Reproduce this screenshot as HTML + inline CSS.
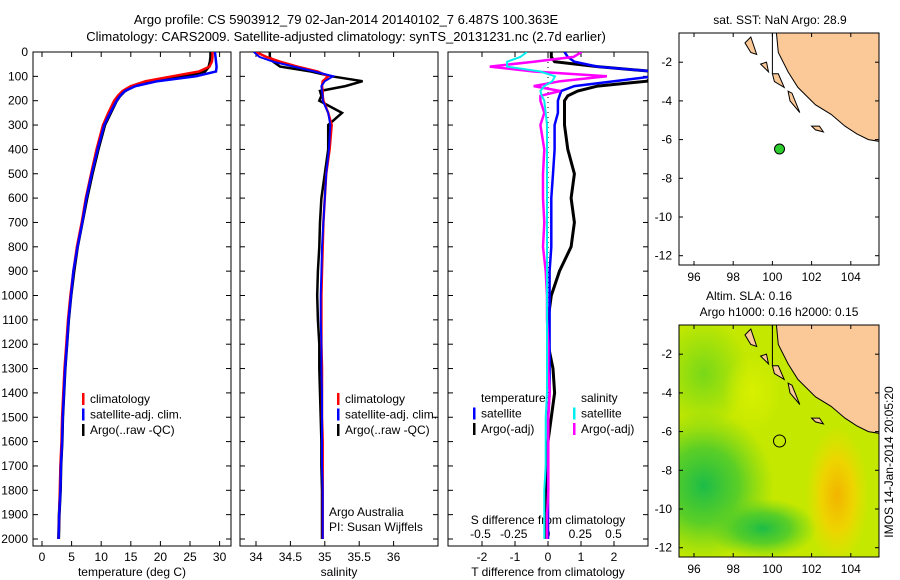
<!DOCTYPE html>
<html><head><meta charset="utf-8"><style>
body{margin:0;background:#fff;}
svg{display:block;font-family:"Liberation Sans",sans-serif;font-size:12px;}
</style></head><body>
<svg id="c" width="900" height="580" xmlns="http://www.w3.org/2000/svg">
<text x="346" y="24" text-anchor="middle" font-size="13">Argo profile: CS 5903912_79 02-Jan-2014 20140102_7 6.487S 100.363E</text>
<text x="346" y="41" text-anchor="middle" font-size="13">Climatology: CARS2009. Satellite-adjusted climatology: synTS_20131231.nc (2.7d earlier)</text>
<defs>
<clipPath id="cp1"><rect x="33" y="52" width="198" height="494"/></clipPath>
<clipPath id="cp2"><rect x="240" y="52" width="198" height="494"/></clipPath>
<clipPath id="cp3"><rect x="448" y="52" width="200" height="494"/></clipPath>
<clipPath id="cm1"><rect x="679" y="33" width="200" height="232"/></clipPath>
<clipPath id="cm2"><rect x="679" y="325" width="200" height="232"/></clipPath>
<radialGradient id="g1" cx="0.5" cy="0.5" r="0.5"><stop offset="0" stop-color="#1cbc48"/><stop offset="0.5" stop-color="#40c830" stop-opacity="0.8"/><stop offset="1" stop-color="#60d020" stop-opacity="0"/></radialGradient>
<radialGradient id="g2" cx="0.5" cy="0.5" r="0.5"><stop offset="0" stop-color="#f2b400"/><stop offset="0.5" stop-color="#eed400"/><stop offset="1" stop-color="#e8e000" stop-opacity="0"/></radialGradient>
<radialGradient id="g3" cx="0.5" cy="0.5" r="0.5"><stop offset="0" stop-color="#d8f000"/><stop offset="1" stop-color="#d8f000" stop-opacity="0"/></radialGradient>
<radialGradient id="g4" cx="0.5" cy="0.5" r="0.5"><stop offset="0" stop-color="#78d818"/><stop offset="1" stop-color="#78d818" stop-opacity="0"/></radialGradient>
</defs>
<g id="p1"></g>
<g id="p2"></g>
<g id="p3"></g>
<g id="m1"></g>
<g id="m2"></g>
</svg>
<script>
const depths=[0,20,40,60,80,100,120,140,160,180,200,250,300,400,500,600,700,800,900,1000,1100,1200,1300,1400,1500,1600,1700,1800,1900,2000];
const tempArgo=[28.5,28.5,28.4,28.2,27.5,24,19,15.5,14,13.2,12.6,11.6,10.6,9.5,8.5,7.6,6.8,6,5.4,4.9,4.5,4.2,3.9,3.7,3.5,3.4,3.2,3.1,2.9,2.8];
const tempClim=[28.8,28.8,28.7,28.3,26.5,22,17.5,15,13.6,12.8,12.2,11.2,10.3,9.2,8.3,7.4,6.7,5.9,5.3,4.8,4.4,4.1,3.8,3.6,3.4,3.3,3.1,3,2.9,2.8];
const tempSat=[29.2,29.3,29.4,29.5,29.4,26,19.5,15.8,14,13.2,12.6,11.5,10.5,9.4,8.4,7.5,6.8,6,5.3,4.9,4.5,4.2,3.9,3.7,3.5,3.4,3.2,3.1,2.9,2.8];
const salArgo=[34.2,34.2,34.25,34.35,34.8,35.1,35.55,35.3,34.93,34.95,34.92,35.25,35.05,35.05,35.0,34.95,34.93,34.92,34.9,34.89,34.9,34.92,34.92,34.93,34.94,34.95,34.95,34.96,34.96,34.96];
const salClim=[34.0,34.15,34.35,34.6,34.9,35.05,34.97,34.96,34.97,34.97,34.98,35.05,35.1,35.07,35.02,35.0,34.98,34.97,34.96,34.95,34.95,34.95,34.96,34.96,34.96,34.97,34.97,34.97,34.97,34.97];
const salSat=[33.97,34.05,34.25,34.55,34.85,35.12,35.0,34.95,34.96,34.97,34.97,35.05,35.08,35.06,35.02,35.0,34.98,34.96,34.95,34.94,34.94,34.95,34.95,34.96,34.96,34.96,34.96,34.97,34.97,34.97];
const dTsat=[0.5,0.6,0.8,1.5,3.2,3.2,2.0,0.8,0.4,0.35,0.3,0.3,0.2,0.2,0.15,0.1,0.1,0.1,0.05,0.05,0.05,0.05,0.05,0.05,0,0,0,0,0,0];
const dTargo=[0.1,0.1,0.2,1.5,3.2,3.2,3.0,1.5,0.9,0.6,0.5,0.5,0.5,0.6,0.8,0.7,0.8,0.7,0.35,0.1,0,0,0.15,0.2,0.1,0,-0.05,-0.05,-0.05,-0.05];
const dSsat=[-0.15,-0.2,-0.3,-0.3,-0.05,0.06,0.04,-0.02,-0.05,-0.04,-0.02,-0.01,0,0,0,0,0,0,0,0,0,0,0,0,-0.01,-0.01,-0.01,-0.02,-0.02,-0.02];
const dSargo=[0.26,0.2,-0.1,-0.43,-0.1,0.45,0.1,-0.1,0.1,-0.05,-0.05,-0.02,-0.05,-0.02,-0.03,-0.03,-0.02,-0.03,-0.01,0,0,0.01,0.01,0.02,0.01,0.01,0.01,0.01,0,0];
const depthTicks=[0,100,200,300,400,500,600,700,800,900,1000,1100,1200,1300,1400,1500,1600,1700,1800,1900,2000];
const tempTicks=[0,5,10,15,20,25,30];
const salTicks=[34,34.5,35,35.5,36];
const salTickLabels=["34","34.5","35","35.5","36"];
const dTTicks=[-2,-1,0,1,2];
const dSTicks=[-0.5,-0.25,0,0.25,0.5];
const dSTickLabels=["-0.5","-0.25","0","0.25","0.5"];
const lonTicks=[96,98,100,102,104];
const latTicks=[-2,-4,-6,-8,-10,-12];
const argoLon=100.363, argoLat=-6.487;

const NS="http://www.w3.org/2000/svg";
function mk(parent,tag,attrs,txt){const e=document.createElementNS(NS,tag);for(const k in attrs)e.setAttribute(k,attrs[k]);if(txt!==undefined)e.textContent=txt;parent.appendChild(e);return e;}
const yD=d=>52+d*0.2435;
const xT=t=>42+t*5.92;
const xS=s=>256+(s-34)*68.8;
const xdT=t=>548+t*33;
const xdS=s=>547+s*133;

function line(g,xs,xf,color,w,clip,name){
  const p=depths.map((d,i)=>xf(xs[i]).toFixed(1)+","+yD(d).toFixed(1)).join(" ");
  const e=mk(g,"polyline",{points:p,fill:"none",stroke:color,"stroke-width":w,"clip-path":"url(#"+clip+")"});
  
  
}
function frame(g,x0,w,name){
  const r=mk(g,"rect",{x:x0,y:52,width:w,height:494,fill:"none",stroke:"#000"});
  
  
}
function xticks(g,vals,labels,xf,yl,name,top){
  vals.forEach((v,i)=>{const x=xf(v);
    mk(g,"line",{x1:x,x2:x,y1:546,y2:541,stroke:"#000"});
    if(top)mk(g,"line",{x1:x,x2:x,y1:52,y2:57,stroke:"#000"});
    const t=mk(g,"text",{x:x,y:yl,"text-anchor":"middle"},labels[i]);
    
    
  });
}
function legend(g,x,y,items,name){
  items.forEach((it,i)=>{
    const yy=y+i*15.5;
    if(it[1])mk(g,"rect",{x:x,y:yy-10,width:2.5,height:12,fill:it[1]});
    const t=mk(g,"text",{x:x+8,y:yy},it[0]);
    
    
  });
}
// panel 1
const g1=document.getElementById("p1");
frame(g1,33,198,"temperature-frame");
depthTicks.forEach(d=>{const y=yD(d);mk(g1,"line",{x1:33,x2:38,y1:y,y2:y,stroke:"#000"});mk(g1,"line",{x1:231,x2:226,y1:y,y2:y,stroke:"#000"});
  const t=mk(g1,"text",{x:28,y:y+4,"text-anchor":"end"},String(d));});
xticks(g1,tempTicks,tempTicks.map(String),xT,561,"temperature-tick-label",true);
mk(g1,"text",{x:132,y:576,"text-anchor":"middle"},"temperature (deg C)");
line(g1,tempArgo,xT,"#000",3,"cp1","argo-temperature-line");
line(g1,tempClim,xT,"#f00",2.5,"cp1","climatology-temperature-line");
line(g1,tempSat,xT,"#00f",2.5,"cp1","satellite-temperature-line");
legend(g1,82,403,[["climatology","#f00"],["satellite-adj. clim.","#00f"],["Argo(..raw -QC)","#000"]],"temperature-legend-entry");
// panel 2
const g2=document.getElementById("p2");
frame(g2,240,198,"salinity-frame");
depthTicks.forEach(d=>{const y=yD(d);mk(g2,"line",{x1:240,x2:245,y1:y,y2:y,stroke:"#000"});mk(g2,"line",{x1:438,x2:433,y1:y,y2:y,stroke:"#000"});});
xticks(g2,salTicks,salTickLabels,xS,561,"salinity-tick-label",true);
mk(g2,"text",{x:339,y:576,"text-anchor":"middle"},"salinity");
line(g2,salArgo,xS,"#000",2.5,"cp2","argo-salinity-line");
line(g2,salClim,xS,"#f00",2.5,"cp2","climatology-salinity-line");
line(g2,salSat,xS,"#00f",2,"cp2","satellite-salinity-line");
legend(g2,337,403,[["climatology","#f00"],["satellite-adj. clim.","#00f"],["Argo(..raw -QC)","#000"]],"salinity-legend-entry");
mk(g2,"text",{x:329,y:516},"Argo Australia");
mk(g2,"text",{x:329,y:531},"PI: Susan Wijffels");
// panel 3
const g3=document.getElementById("p3");
frame(g3,448,200,"difference-frame");
depthTicks.forEach(d=>{const y=yD(d);mk(g3,"line",{x1:448,x2:453,y1:y,y2:y,stroke:"#000"});mk(g3,"line",{x1:648,x2:643,y1:y,y2:y,stroke:"#000"});});
dTTicks.forEach(v=>{const x=xdT(v);mk(g3,"line",{x1:x,x2:x,y1:546,y2:541,stroke:"#000"});mk(g3,"line",{x1:x,x2:x,y1:52,y2:57,stroke:"#000"});
  const t=mk(g3,"text",{x:x,y:561,"text-anchor":"middle"},String(v));});
dSTicks.forEach((v,i)=>{const t=mk(g3,"text",{x:xdS(v),y:538,"text-anchor":"middle"},dSTickLabels[i]);});
mk(g3,"text",{x:548,y:524,"text-anchor":"middle"},"S difference from climatology");
mk(g3,"text",{x:548,y:576,"text-anchor":"middle"},"T difference from climatology");
mk(g3,"line",{x1:548,x2:548,y1:52,y2:546,stroke:"#000","stroke-dasharray":"1,4"});
line(g3,dTargo,xdT,"#000",3,"cp3","argo-t-diff-line");
line(g3,dTsat,xdT,"#00f",2.5,"cp3","satellite-t-diff-line");
line(g3,dSargo,xdS,"#f0f",2.5,"cp3","argo-s-diff-line");
line(g3,dSsat,xdS,"#0ee",2,"cp3","satellite-s-diff-line");
legend(g3,473,402,[["temperature",null],["satellite","#00f"],["Argo(-adj)","#000"]],"t-diff-legend-entry");
legend(g3,573,402,[["salinity",null],["satellite","#0ee"],["Argo(-adj)","#f0f"]],"s-diff-legend-entry");
// maps
function map(gid,y0,h,clip,name,colored){
  const g=document.getElementById(gid);
  const xL=lo=>694+(lo-96)*19.6;
  const lat0=y0-9.5;
  const yL=la=>lat0+(-la)*19.35;
  if(colored){
    mk(g,"rect",{x:679,y:y0,width:200,height:h,fill:"#c4e800","clip-path":"url(#"+clip+")"});
    mk(g,"ellipse",{cx:xL(96.5),cy:yL(-3),rx:45,ry:55,fill:"url(#g4)","clip-path":"url(#"+clip+")"});
    mk(g,"ellipse",{cx:xL(96.5),cy:yL(-8.8),rx:70,ry:75,fill:"url(#g1)","clip-path":"url(#"+clip+")"});
    mk(g,"ellipse",{cx:xL(99.5),cy:yL(-11),rx:55,ry:30,fill:"url(#g1)","clip-path":"url(#"+clip+")"});
    mk(g,"ellipse",{cx:xL(99),cy:yL(-4),rx:30,ry:40,fill:"url(#g3)","clip-path":"url(#"+clip+")"});
    mk(g,"ellipse",{cx:xL(103.3),cy:yL(-9.3),rx:32,ry:70,fill:"url(#g2)","clip-path":"url(#"+clip+")"});
  }
  const land=[[100.1,0.6],[100.3,-1.5],[100.8,-2.5],[101.3,-3.3],[102.2,-4.2],[103,-4.7],[103.7,-5.3],[104.3,-5.7],[104.9,-6.0],[105.5,-6.1],[105.5,0.6]];
  const lp=mk(g,"polygon",{points:land.map(p=>xL(p[0]).toFixed(1)+","+yL(p[1]).toFixed(1)).join(" "),fill:"#fbc897",stroke:"#000","stroke-width":1,"clip-path":"url(#"+clip+")"});
  
  
  [[[98.6,-1],[98.9,-0.7],[99.2,-1.6],[98.9,-1.5]],[[99.4,-2.1],[99.7,-2.0],[99.8,-2.5]],[[100.0,-2.6],[100.3,-2.6],[100.6,-3.3],[100.1,-3.0]],[[100.8,-3.5],[101.0,-3.6],[101.4,-4.6],[100.9,-4.0]],[[102,-5.3],[102.4,-5.3],[102.6,-5.6],[102.2,-5.5]]].forEach(isl=>{
    mk(g,"polygon",{points:isl.map(p=>xL(p[0]).toFixed(1)+","+yL(p[1]).toFixed(1)).join(" "),fill:"#fbc897",stroke:"#000","stroke-width":1,"clip-path":"url(#"+clip+")"});});
  mk(g,"line",{x1:xL(100),x2:xL(100),y1:y0,y2:yL(-2.6),stroke:"#000"});
  const r=mk(g,"rect",{x:679,y:y0,width:200,height:h,fill:"none",stroke:"#000"});
  
  
  lonTicks.forEach(v=>{const x=xL(v);mk(g,"line",{x1:x,x2:x,y1:y0+h,y2:y0+h-4,stroke:"#000"});mk(g,"line",{x1:x,x2:x,y1:y0,y2:y0+4,stroke:"#000"});
    const t=mk(g,"text",{x:x,y:y0+h+16,"text-anchor":"middle"},String(v));});
  latTicks.forEach(v=>{const y=yL(v);mk(g,"line",{x1:679,x2:683,y1:y,y2:y,stroke:"#000"});mk(g,"line",{x1:879,x2:875,y1:y,y2:y,stroke:"#000"});
    const t=mk(g,"text",{x:672,y:y+4,"text-anchor":"end"},String(v));});
  const c=mk(g,"circle",{cx:xL(argoLon),cy:yL(argoLat),r:colored?6:5,fill:colored?"none":"#2ecc2e",stroke:"#000","stroke-width":1});
  
  
}
map("m1",33,232,"cm1","sst-map",false);
map("m2",325,232,"cm2","sla-map",true);
const gm=document.getElementById("m1");
mk(gm,"text",{x:780,y:24,"text-anchor":"middle"},"sat. SST: NaN Argo: 28.9");
const gm2=document.getElementById("m2");
mk(gm2,"text",{x:749,y:300,"text-anchor":"middle"},"Altim. SLA: 0.16");
mk(gm2,"text",{x:779,y:316,"text-anchor":"middle"},"Argo h1000: 0.16 h2000: 0.15");
mk(gm2,"text",{x:893,y:462,"text-anchor":"middle",transform:"rotate(-90 893 462)"},"IMOS 14-Jan-2014 20:05:20");
</script>
</body></html>
